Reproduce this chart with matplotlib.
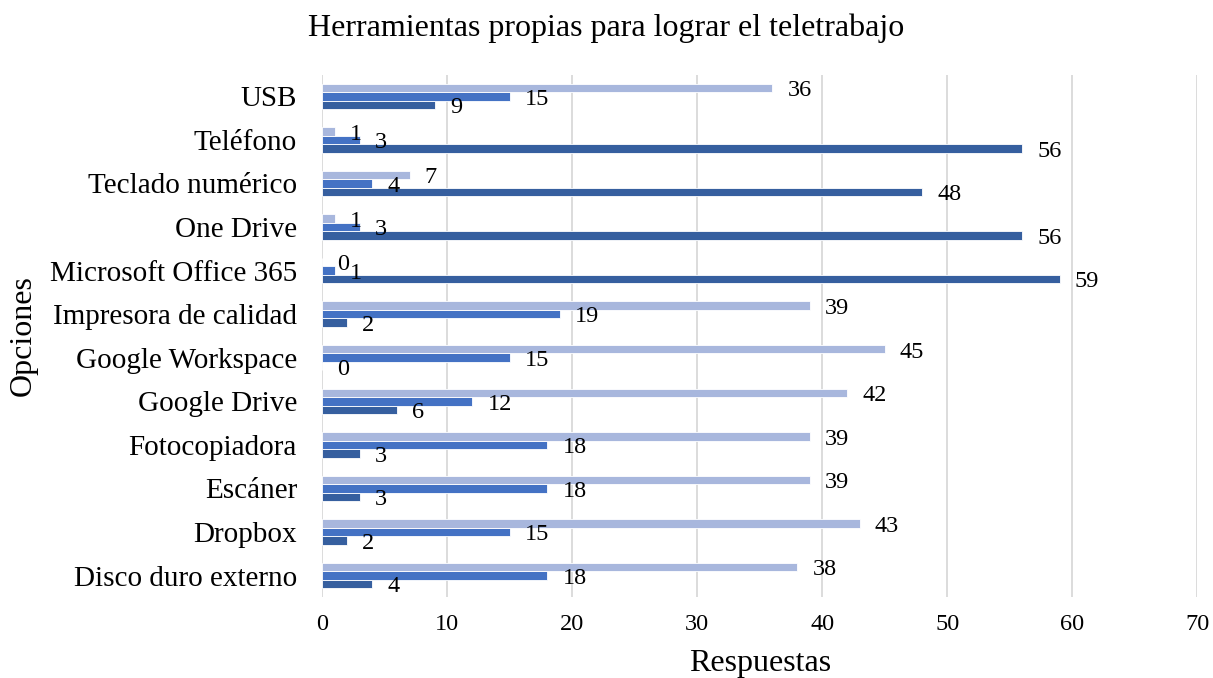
import numpy as np
import matplotlib.pyplot as plt

plt.rcParams['font.family'] = ['Liberation Serif', 'DejaVu Serif']

# categorias de abajo hacia arriba (como en Excel)
categorias = ["Disco duro externo", "Dropbox", "Escáner", "Fotocopiadora",
              "Google Drive", "Google Workspace", "Impresora de calidad",
              "Microsoft Office 365", "One Drive", "Teclado numérico",
              "Teléfono", "USB"]
serie_oscura = [4, 2, 3, 3, 6, 0, 2, 59, 56, 48, 56, 9]
serie_media = [18, 15, 18, 18, 12, 15, 19, 1, 3, 4, 3, 15]
serie_clara = [38, 43, 39, 39, 42, 45, 39, 0, 1, 7, 1, 36]

colores = ["#365F9F", "#4472C4", "#A8B7DD"]

fig = plt.figure(figsize=(12.13, 6.78), dpi=100)
ax = fig.add_axes([0.2655, 0.119, 0.7215, 0.771])

y = np.arange(len(categorias))
alto = 0.195
series = [serie_oscura, serie_media, serie_clara]
for k, (vals, col) in enumerate(zip(series, colores)):
    pos = y + (k - 1) * alto
    ax.barh(pos, vals, height=alto, color=col, edgecolor="white",
            linewidth=0.6, zorder=3)
    for p, v in zip(pos, vals):
        ax.annotate(str(v), (v, p), xytext=(11, -2),
                    textcoords="offset points", va="center", ha="left",
                    fontsize=17.5, zorder=4)

ax.set_xlim(0, 70)
ax.set_ylim(-0.5, len(categorias) - 0.5)
ax.set_xticks(range(0, 71, 10))
ax.set_yticks(y)
ax.set_yticklabels(categorias, fontsize=21)
ax.tick_params(axis="x", labelsize=17.5, length=0, pad=12)
ax.tick_params(axis="y", length=0, pad=18)
ax.grid(axis="x", color="#D9D9D9", linewidth=1.3, zorder=0)
for s in ax.spines.values():
    s.set_visible(False)

fig.text(760 / 1213, 1 - 663 / 678, "Respuestas", ha="center", va="center",
         fontsize=23)
fig.text(23 / 1213, 1 - 336 / 678, "Opciones", ha="center", va="center",
         rotation=90, fontsize=23)
fig.text(0.5, 1 - 28 / 678, "Herramientas propias para lograr el teletrabajo",
         ha="center", va="center", fontsize=23)

fig.savefig("out.png", dpi=100)
